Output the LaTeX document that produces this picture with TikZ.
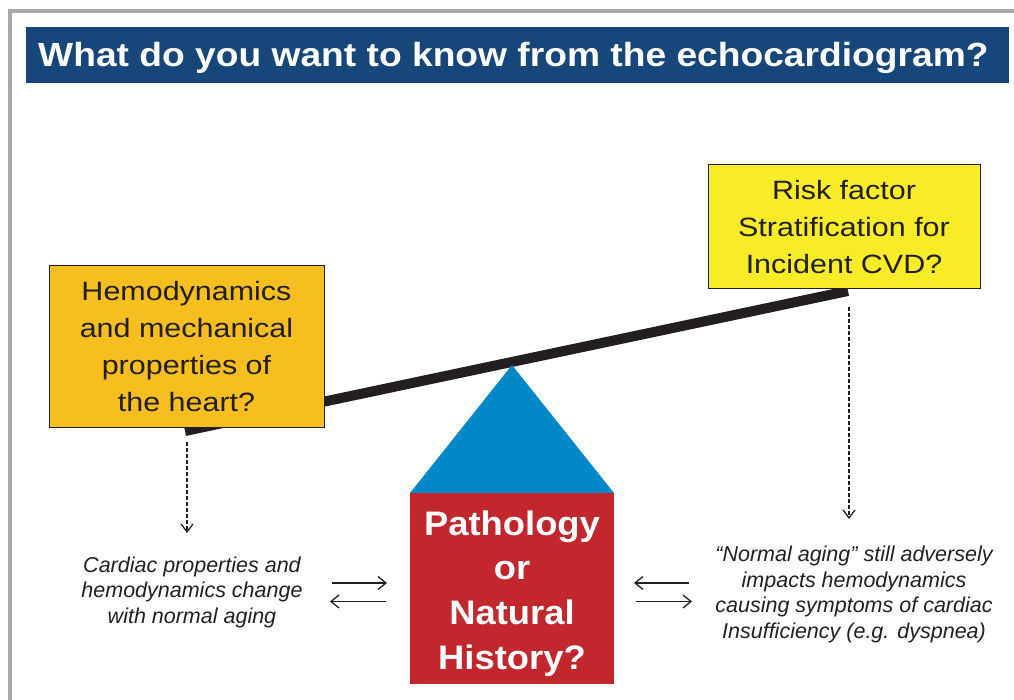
\documentclass[tikz,border=0pt]{standalone}
\usepackage{fontspec}
\setmainfont{Liberation Sans}
\newfontfamily\boxfont[FakeStretch=1.15]{Liberation Sans}
\newfontfamily\titlefont[FakeStretch=1.11]{Liberation Sans}
\newfontfamily\redfont[FakeStretch=1.07]{Liberation Sans}
\usepackage{tikz}
\usetikzlibrary{arrows.meta,positioning}

\definecolor{titleblue}{HTML}{17467A}
\definecolor{framegray}{HTML}{A7A9AC}
\definecolor{heartorange}{HTML}{F6BE1F}
\definecolor{riskyellow}{HTML}{F7EC25}
\definecolor{fulcrumblue}{HTML}{0088C9}
\definecolor{pathred}{HTML}{C1272D}
\definecolor{inkdark}{HTML}{231F20}

\begin{document}
\begin{tikzpicture}[x=1pt, y=-1pt,
		question/.style={draw=inkdark, line width=1pt, inner sep=0pt, align=center, text=inkdark, font=\boxfont\fontsize{26.5}{36.7}\selectfont},
		remark/.style={inner sep=0pt, align=center, text=inkdark, font=\itshape\fontsize{21.5}{25.5}\selectfont},
		swap/.style={line width=1.3pt, draw=inkdark, -{Straight Barb[length=8pt, width=13pt]}},
		drop/.style={line width=1.3pt, draw=inkdark, dash pattern=on 4pt off 2pt, -{Straight Barb[length=8pt, width=12pt]}}]
		\useasboundingbox (0,0) rectangle (1014,700);
		\clip (0,0) rectangle (1014,700);
		\draw[framegray, line width=4pt] (10,720) -- (10,11) -- (1030,11);

		\fill[titleblue] (26,27) rectangle (1009,83);
		\node[anchor=base west, inner sep=0pt, text=white, font=\titlefont\bfseries\fontsize{33.5}{40}\selectfont] (title) at (38,67) {What do you want to know from the echocardiogram?};

		% the lever and its pivot
		\coordinate (beamL) at (185,431);
		\coordinate (beamR) at (848,291);
		\draw[inkdark, line width=10pt] (beamL) -- (beamR);
		\fill[fulcrumblue] (410,493) -- (512,365) -- (614,493) -- cycle;

		\node[fill=pathred, minimum width=204pt, minimum height=191pt, inner sep=0pt] (path) at (512,588.5) {};
		\node[inner sep=0pt, align=center, text=white, font=\redfont\bfseries\fontsize{34}{44.7}\selectfont] (pathtext) at ([yshift=-5pt]path.center) {Pathology\\or\\Natural\\History?};

		\node[question, fill=heartorange, minimum width=275pt, minimum height=161pt] (heart) at (186.5,346.5) {Hemodynamics\\and mechanical\\properties of\\the heart?};
		\node[question, fill=riskyellow, minimum width=272pt, minimum height=124pt] (risk) at (844,227) {Risk factor\\Stratification for\\Incident CVD?};

		\node[remark] (aging) at (192,592) {Cardiac properties and\\hemodynamics change\\with normal aging};
		\node[remark] (impact) at (854,594.5) {``Normal aging'' still adversely\\impacts hemodynamics\\causing symptoms of cardiac\\Insufficiency (e.g. dyspnea)};

		\coordinate (heartdrop) at (187,442);
		\coordinate (heartnote) at (187,533);
		\coordinate (riskdrop) at (849,307);
		\coordinate (risknote) at (849,519);
		\draw[drop] (heartdrop) -- (heartnote);
		\draw[drop] (riskdrop) -- (risknote);

		\coordinate (lefttop) at (332,583);
		\coordinate (leftbot) at (386,601.5);
		\coordinate (righttop) at (689,583);
		\coordinate (rightbot) at (636,601.5);
		\draw[swap] (lefttop) -- ++(55,0);
		\draw[swap] (leftbot) -- ++(-56,0);
		\draw[swap] (righttop) -- ++(-55,0);
		\draw[swap] (rightbot) -- ++(56,0);
\end{tikzpicture}
\end{document}
